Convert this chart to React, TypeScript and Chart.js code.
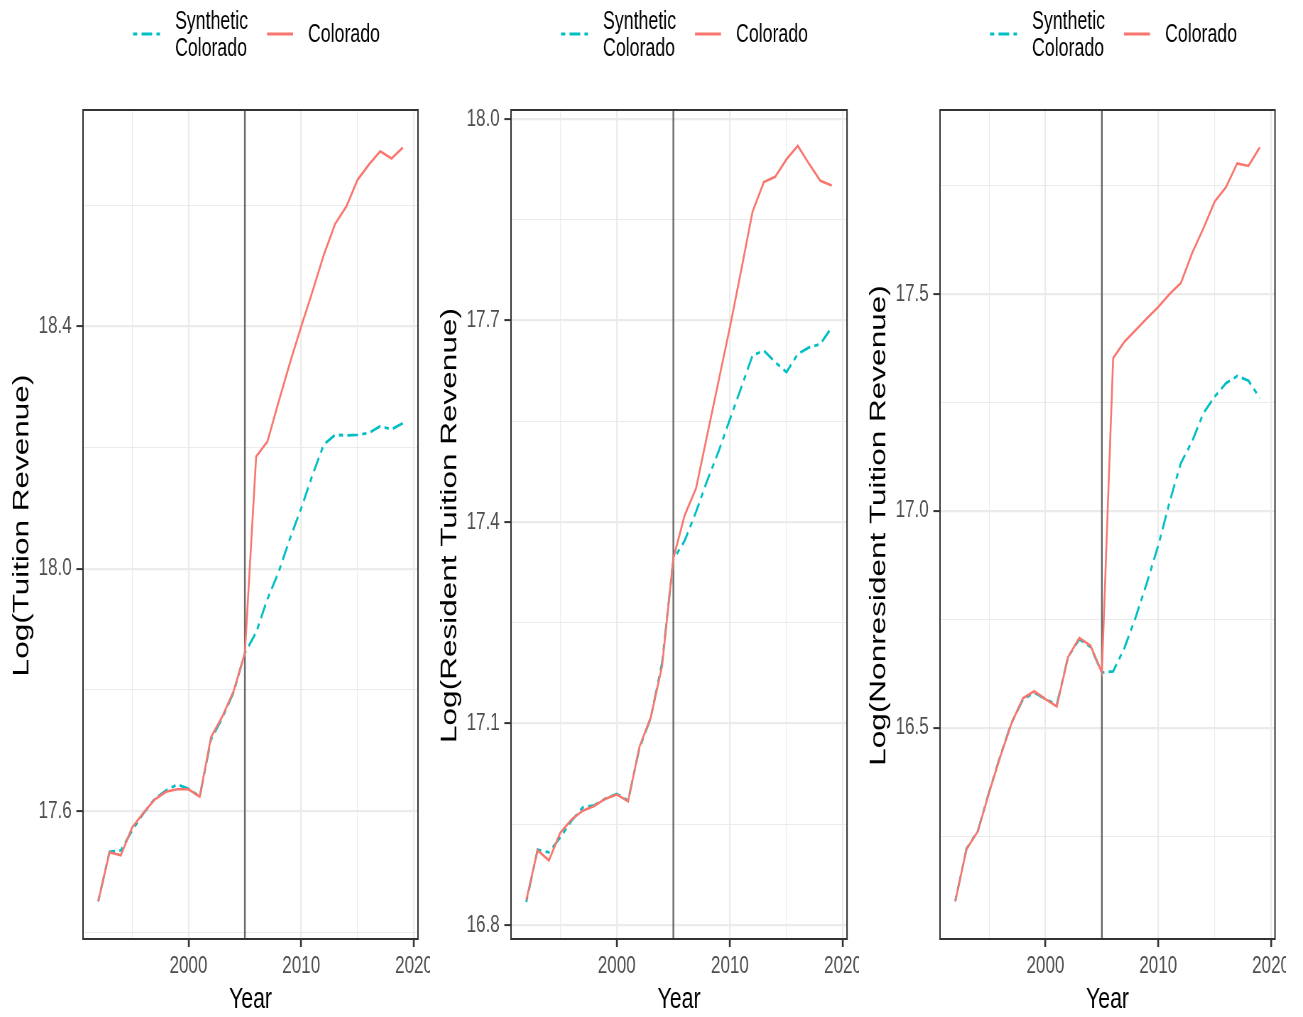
import React, { useEffect, useRef } from 'react';
import { Chart, registerables } from 'chart.js';

Chart.register(...registerables);

// ---------- data ----------
const years = [
  1992, 1993, 1994, 1995, 1996, 1997, 1998, 1999, 2000, 2001, 2002, 2003, 2004, 2005,
  2006, 2007, 2008, 2009, 2010, 2011, 2012, 2013, 2014, 2015, 2016, 2017, 2018, 2019,
];

const tuitionColorado = [
  17.451, 17.532, 17.527, 17.573, 17.597, 17.619, 17.632, 17.636, 17.636, 17.624, 17.722, 17.756, 17.798, 17.861,
  18.185, 18.21, 18.276, 18.34, 18.4, 18.458, 18.518, 18.569, 18.598, 18.642, 18.667, 18.689, 18.677, 18.695,
];
const tuitionSynthetic = [
  17.451, 17.533, 17.535, 17.568, 17.596, 17.62, 17.634, 17.644, 17.637, 17.624, 17.718, 17.754, 17.796, 17.861,
  17.895, 17.95, 17.995, 18.05, 18.1, 18.155, 18.205, 18.221, 18.22, 18.221, 18.224, 18.235, 18.23, 18.24,
];

const residentColorado = [
  16.837, 16.911, 16.896, 16.937, 16.957, 16.97, 16.977, 16.988, 16.994, 16.984, 17.065, 17.109, 17.185, 17.346,
  17.41, 17.45, 17.53, 17.61, 17.69, 17.775, 17.862, 17.906, 17.914, 17.94, 17.96, 17.933, 17.908, 17.901,
];
const residentSynthetic = [
  16.834, 16.912, 16.908, 16.93, 16.955, 16.975, 16.978, 16.988, 16.995, 16.985, 17.063, 17.108, 17.19, 17.344,
  17.372, 17.415, 17.462, 17.505, 17.553, 17.6, 17.648, 17.655, 17.638, 17.623, 17.65, 17.66, 17.665, 17.69,
];

const nonresidentColorado = [
  16.1, 16.22, 16.261, 16.35, 16.434, 16.511, 16.568, 16.584, 16.566, 16.549, 16.663, 16.707, 16.689, 16.627,
  17.352, 17.39, 17.417, 17.444, 17.47, 17.5, 17.525, 17.594, 17.651, 17.713, 17.746, 17.801, 17.795, 17.838,
];
const nonresidentSynthetic = [
  16.1, 16.221, 16.262, 16.352, 16.436, 16.512, 16.565, 16.581, 16.566, 16.553, 16.663, 16.704, 16.686, 16.627,
  16.63, 16.684, 16.755, 16.835, 16.92, 17.02, 17.11, 17.16, 17.225, 17.263, 17.294, 17.311, 17.3, 17.26,
];

const yAxisTitles = [
  'Log(Tuition Revenue)',
  'Log(Resident Tuition Revenue)',
  'Log(Nonresident Tuition Revenue)',
];
const xAxisTitle = 'Year';
const seriesLabels = ['Synthetic Colorado', 'Colorado'];
const legendSyntheticLines = ['Synthetic', 'Colorado'];
const legendColoradoLines = ['Colorado'];

const xTicks = [1995, 2000, 2005, 2010, 2015, 2020];
const xTickLabels = [2000, 2010, 2020];
const xLimits = [1990.65, 2020.35];

const yTicksTuition = [17.4, 17.6, 17.8, 18.0, 18.2, 18.4, 18.6];
const yTickLabelsTuition = [17.6, 18.0, 18.4];
const yLimitsTuition = [17.389, 18.757];

const yTicksResident = [16.8, 16.95, 17.1, 17.25, 17.4, 17.55, 17.7, 17.85, 18.0];
const yTickLabelsResident = [16.8, 17.1, 17.4, 17.7, 18.0];
const yLimitsResident = [16.779, 18.0134];

const yTicksNonresident = [16.25, 16.5, 16.75, 17.0, 17.25, 17.5, 17.75];
const yTickLabelsNonresident = [16.5, 17.0, 17.5];
const yLimitsNonresident = [16.013, 17.924];

const treatmentYear = 2005;

// ---------- style ----------
const COLORADO_COLOR = '#F8766D';
const SYNTH_COLOR = '#00BFC4';
const SYNTH_DASH = [6, 6, 15, 6];
const FONT = "'Liberation Sans', Arial, Helvetica, sans-serif";
const H = 1017;
const SQUASH = 0.71;

const near = (v: number, list: number[]) => list.some((t) => Math.abs(t - v) < 1e-6);

const decorPlugin = {
  id: 'decor',
  beforeDatasetsDraw(chart: any, _a: any, opts: any) {
    const { ctx, chartArea: a, scales } = chart;
    const x = scales.x.getPixelForValue(opts.vlineX);
    ctx.save();
    ctx.strokeStyle = '#6a6a6a';
    ctx.lineWidth = 2.4;
    ctx.beginPath();
    ctx.moveTo(x, a.top);
    ctx.lineTo(x, a.bottom);
    ctx.stroke();
    ctx.restore();
  },
  afterDatasetsDraw(chart: any) {
    const { ctx, chartArea: a } = chart;
    ctx.save();
    ctx.strokeStyle = '#333333';
    ctx.lineWidth = 2;
    ctx.strokeRect(a.left, a.top, a.right - a.left, a.bottom - a.top);
    ctx.restore();
  },
  afterDraw(chart: any, _a: any, opts: any) {
    const { ctx, chartArea: a } = chart;
    const k = opts.k;
    ctx.save();
    // y title
    ctx.fillStyle = '#000000';
    ctx.font = `31.5px ${FONT}`;
    ctx.textAlign = 'center';
    ctx.textBaseline = 'middle';
    ctx.translate(a.left - 61 * k, (a.top + a.bottom) / 2 + 1);
    ctx.rotate(-Math.PI / 2);
    ctx.fillText(opts.yTitle, 0, 0);
    ctx.restore();

    // x title
    ctx.save();
    ctx.fillStyle = '#000000';
    ctx.font = `30px ${FONT}`;
    ctx.textAlign = 'center';
    ctx.textBaseline = 'middle';
    ctx.fillText(xAxisTitle, (a.left + a.right) / 2, 1000);
    ctx.restore();

    // legend
    const x0 = a.left + 50 * k;
    const yKey = 34;
    ctx.save();
    ctx.lineWidth = 2.8;
    ctx.strokeStyle = SYNTH_COLOR;
    ctx.setLineDash(SYNTH_DASH);
    ctx.beginPath();
    ctx.moveTo(x0, yKey);
    ctx.lineTo(x0 + 27 * k, yKey);
    ctx.stroke();
    ctx.setLineDash([]);
    ctx.strokeStyle = COLORADO_COLOR;
    ctx.lineWidth = 2.8;
    ctx.beginPath();
    ctx.moveTo(x0 + 134 * k, yKey);
    ctx.lineTo(x0 + 160 * k, yKey);
    ctx.stroke();
    ctx.fillStyle = '#000000';
    ctx.font = `25px ${FONT}`;
    ctx.textAlign = 'left';
    ctx.textBaseline = 'middle';
    legendSyntheticLines.forEach((t, i) => ctx.fillText(t, x0 + 42 * k, 22 + i * 27));
    legendColoradoLines.forEach((t, i) => ctx.fillText(t, x0 + 175 * k, 35 + i * 27));
    ctx.restore();
  },
};

type PanelProps = {
  left: number;
  width: number;
  plotLeft: number;
  plotRight: number;
  yTitle: string;
  colorado: number[];
  synthetic: number[];
  yTicks: number[];
  yTickLabels: number[];
  yLimits: number[];
};

function Panel(p: PanelProps) {
  const ref = useRef<HTMLCanvasElement>(null);
  const canvasW = Math.round(p.width / SQUASH);
  const k = canvasW / p.width;

  useEffect(() => {
    const plotLeftV = p.plotLeft * k;
    const padRight = (p.width - p.plotRight) * k;
    const chart = new Chart(ref.current as HTMLCanvasElement, {
      type: 'line',
      data: {
        datasets: [
          {
            label: seriesLabels[1],
            data: years.map((x, i) => ({ x, y: p.colorado[i] })),
            borderColor: COLORADO_COLOR,
            backgroundColor: COLORADO_COLOR,
            borderWidth: 2.6,
            pointRadius: 0,
            tension: 0,
            fill: false,
          },
          {
            label: seriesLabels[0],
            data: years.map((x, i) => ({ x, y: p.synthetic[i] })),
            borderColor: SYNTH_COLOR,
            backgroundColor: SYNTH_COLOR,
            borderWidth: 2.8,
            borderDash: SYNTH_DASH,
            pointRadius: 0,
            tension: 0,
            fill: false,
          },
        ],
      },
      options: {
        animation: false,
        responsive: false,
        events: [],
        layout: { padding: { top: 110, right: padRight, left: 0, bottom: 0 } },
        plugins: {
          legend: { display: false },
          tooltip: { enabled: false },
          decor: { k, yTitle: p.yTitle, vlineX: treatmentYear },
        } as any,
        scales: {
          x: {
            type: 'linear',
            min: xLimits[0],
            max: xLimits[1],
            afterBuildTicks: (s: any) => {
              s.ticks = xTicks.map((v) => ({ value: v }));
            },
            afterFit: (s: any) => {
              s.height = H - 939;
              s.paddingLeft = 0;
              s.paddingRight = 0;
            },
            border: { display: false },
            grid: {
              color: '#EBEBEB',
              lineWidth: (c: any) => (c.tick && near(c.tick.value, xTickLabels) ? 2.2 : 1.1),
              drawTicks: true,
              tickLength: 8,
              tickColor: (c: any) => (c.tick && near(c.tick.value, xTickLabels) ? '#333333' : 'rgba(0,0,0,0)'),
              tickWidth: (c: any) => (c.tick && near(c.tick.value, xTickLabels) ? 2.6 : 0.1),
            },
            ticks: {
              autoSkip: false,
              maxRotation: 0,
              minRotation: 0,
              padding: 5,
              color: '#4D4D4D',
              font: { family: FONT, size: 24 },
              callback: (v: any) => (near(Number(v), xTickLabels) ? String(v) : ''),
            },
          },
          y: {
            type: 'linear',
            min: p.yLimits[0],
            max: p.yLimits[1],
            afterBuildTicks: (s: any) => {
              s.ticks = p.yTicks.map((v) => ({ value: v }));
            },
            afterFit: (s: any) => {
              s.width = plotLeftV;
              s.paddingTop = 0;
              s.paddingBottom = 0;
            },
            border: { display: false },
            grid: {
              color: '#EBEBEB',
              lineWidth: (c: any) => (c.tick && near(c.tick.value, p.yTickLabels) ? 2.2 : 1.1),
              drawTicks: true,
              tickLength: 9.4,
              tickColor: (c: any) => (c.tick && near(c.tick.value, p.yTickLabels) ? '#333333' : 'rgba(0,0,0,0)'),
              tickWidth: (c: any) => (c.tick && near(c.tick.value, p.yTickLabels) ? 2 : 0.1),
            },
            ticks: {
              autoSkip: false,
              padding: 6.5,
              color: '#4D4D4D',
              font: { family: FONT, size: 24 },
              callback: (v: any) => (near(Number(v), p.yTickLabels) ? Number(v).toFixed(1) : ''),
            },
          },
        },
      } as any,
      plugins: [decorPlugin as any],
    });
    return () => chart.destroy();
  }, []);

  return (
    <canvas
      ref={ref}
      width={canvasW}
      height={H}
      style={{ position: 'absolute', left: p.left, top: 0, width: `${p.width}px`, height: `${H}px` }}
    />
  );
}

export default function App() {
  return (
    <div
      style={{
        position: 'absolute',
        left: 0,
        top: 0,
        width: 1303,
        height: H,
        background: '#ffffff',
        overflow: 'hidden',
      }}
    >
      <Panel
        left={0}
        width={430}
        plotLeft={83}
        plotRight={418}
        yTitle={yAxisTitles[0]}
        colorado={tuitionColorado}
        synthetic={tuitionSynthetic}
        yTicks={yTicksTuition}
        yTickLabels={yTickLabelsTuition}
        yLimits={yLimitsTuition}
      />
      <Panel
        left={430}
        width={429}
        plotLeft={81}
        plotRight={417}
        yTitle={yAxisTitles[1]}
        colorado={residentColorado}
        synthetic={residentSynthetic}
        yTicks={yTicksResident}
        yTickLabels={yTickLabelsResident}
        yLimits={yLimitsResident}
      />
      <Panel
        left={859}
        width={427}
        plotLeft={81}
        plotRight={416}
        yTitle={yAxisTitles[2]}
        colorado={nonresidentColorado}
        synthetic={nonresidentSynthetic}
        yTicks={yTicksNonresident}
        yTickLabels={yTickLabelsNonresident}
        yLimits={yLimitsNonresident}
      />
    </div>
  );
}
